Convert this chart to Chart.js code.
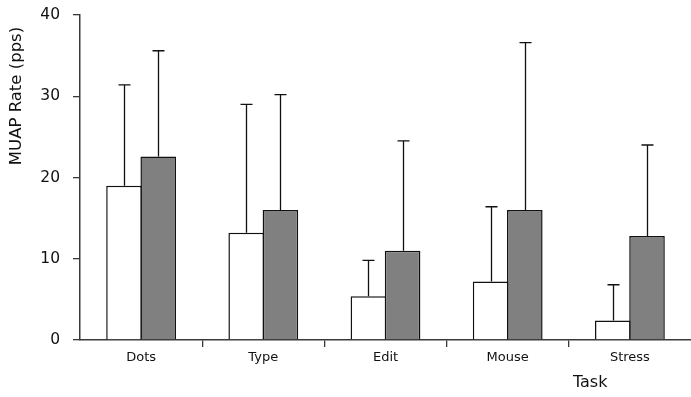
<!DOCTYPE html>
<html>
<head>
<meta charset="utf-8">
<script src="https://cdn.jsdelivr.net/npm/chart.js@4"></script>
<style>
  html, body { margin: 0; padding: 0; background: #fff; }
  #wrap { width: 691px; height: 397px; position: relative; }
</style>
</head>
<body>
<div id="wrap"><canvas id="c"></canvas></div>
<script>
// Task categories
const tasks = ['Dots', 'Type', 'Edit', 'Mouse', 'Stress'];
// Mean MUAP rate (pps) per task, two groups
const meanA = [19.0, 13.2, 5.4, 7.2, 2.4];
const meanB = [22.6, 16.0, 11.0, 16.0, 12.8];
// Standard deviations (drawn as upward error bars)
const sdA = [12.4, 15.8, 4.4, 9.2, 4.4];
const sdB = [13.0, 14.2, 13.5, 20.6, 11.2];
// Y axis ticks
const yTicks = [0, 10, 20, 30, 40];

const FONT = "'DejaVu Sans', Verdana, sans-serif";
const AXIS = '#3a3a3a';

// Upward-only error bars with a small cap
const errorBars = {
  id: 'errorBars',
  afterDatasetsDraw(chart) {
    const ctx = chart.ctx;
    const y = chart.scales.y;
    ctx.save();
    ctx.strokeStyle = '#111';
    ctx.lineWidth = 1.3;
    chart.data.datasets.forEach((ds, di) => {
      const meta = chart.getDatasetMeta(di);
      meta.data.forEach((bar, i) => {
        const top = y.getPixelForValue(ds.data[i] + ds.sd[i]);
        const x = Math.round(bar.x) + 0.5;
        ctx.beginPath();
        ctx.moveTo(x, bar.y);
        ctx.lineTo(x, top);
        ctx.moveTo(x - 6, top);
        ctx.lineTo(x + 6, top);
        ctx.stroke();
      });
    });
    ctx.restore();
  }
};

// Axis titles placed off-centre
const axisTitles = {
  id: 'axisTitles',
  afterDraw(chart) {
    const ctx = chart.ctx;
    const a = chart.chartArea;
    ctx.save();
    ctx.fillStyle = '#111';
    ctx.textAlign = 'center';
    ctx.textBaseline = 'middle';
    ctx.font = '16px ' + FONT;
    ctx.fillText('Task', a.left + (a.right - a.left) * 0.835, 383);
    ctx.font = '16.5px ' + FONT;
    ctx.translate(17, 96);
    ctx.rotate(-Math.PI / 2);
    ctx.fillText('MUAP Rate (pps)', 0, 0);
    ctx.restore();
  }
};

new Chart(document.getElementById('c'), {
  type: 'bar',
  data: {
    labels: tasks,
    datasets: [
      { data: meanA, sd: sdA, backgroundColor: '#ffffff', borderColor: '#111', borderWidth: 1.5 },
      { data: meanB, sd: sdB, backgroundColor: '#808080', borderColor: '#111', borderWidth: 1.5 }
    ]
  },
  options: {
    responsive: true,
    maintainAspectRatio: false,
    animation: false,
    events: [],
    layout: { padding: { top: 15, right: 0, left: 0, bottom: 0 } },
    plugins: { legend: { display: false }, tooltip: { enabled: false } },
    datasets: { bar: { categoryPercentage: 0.56, barPercentage: 1.04 } },
    scales: {
      x: {
        grid: {
          offset: true,
          drawOnChartArea: false,
          drawTicks: true,
          tickLength: 7,
          color: (c) => (c.index === undefined || c.index === 0 || c.index >= tasks.length) ? 'rgba(0,0,0,0)' : AXIS,
          lineWidth: 1.3
        },
        border: { display: true, color: AXIS, width: 1.5 },
        ticks: { color: '#111', font: { family: FONT, size: 13 }, padding: 3 },
        afterFit(s) { s.height = 57; s.paddingLeft = 0; s.paddingRight = 0; }
      },
      y: {
        min: 0,
        max: 40,
        afterBuildTicks(s) { s.ticks = yTicks.map(v => ({ value: v })); },
        grid: { drawOnChartArea: false, drawTicks: true, tickLength: 7, color: AXIS, lineWidth: 1.3 },
        border: { display: true, color: AXIS, width: 1.5 },
        ticks: { color: '#111', font: { family: FONT, size: 15.5 }, padding: 13 },
        afterFit(s) { s.width = 80; s.paddingTop = 0; s.paddingBottom = 0; }
      }
    }
  },
  plugins: [errorBars, axisTitles]
});
</script>
</body>
</html>
